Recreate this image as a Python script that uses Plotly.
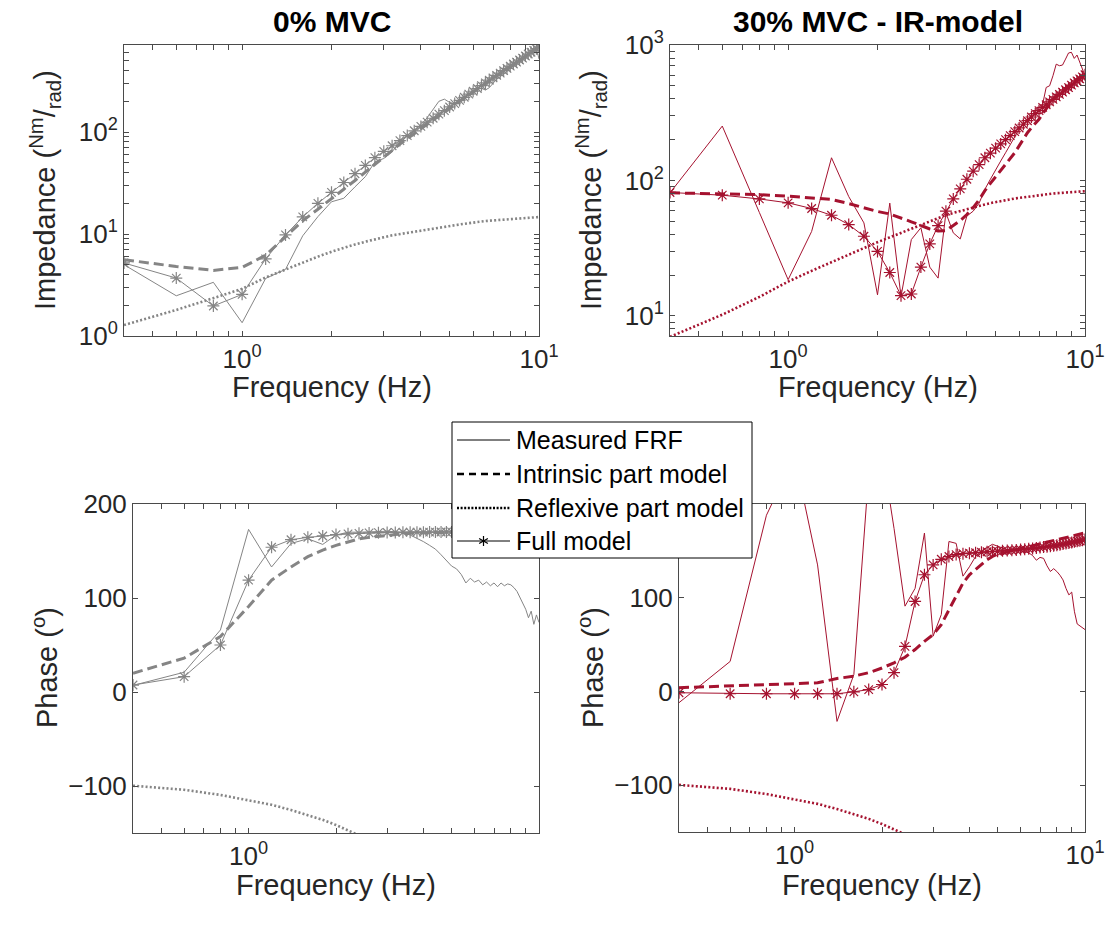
import math
import plotly.graph_objects as go

# Frequency grid (Hz)
freq = [0.4, 0.6, 0.8, 1.0, 1.2, 1.4, 1.6, 1.8, 2.0, 2.2, 2.4, 2.6, 2.8, 3.0,
        3.2, 3.4, 3.6, 3.8, 4.0, 4.2, 4.4, 4.6, 4.8, 5.0, 5.2, 5.4, 5.6, 5.8,
        6.0, 6.2, 6.4, 6.6, 6.8, 7.0, 7.2, 7.4, 7.6, 7.8, 8.0, 8.2, 8.4, 8.6,
        8.8, 9.0, 9.2, 9.4, 9.6, 9.8, 10.0]

# ---- Impedance magnitude, 0% MVC (Nm/rad)
imp_meas_0 = [5.0, 2.48, 3.36, 1.35, 3.67, 4.5, 9.6, 14.8, 20.7, 22.4, 29, 36.5, 51, 55,
              64, 80, 92, 104, 118, 138, 165, 200, 210, 195, 190, 205, 218, 228,
              250, 262, 268, 258, 272, 300, 330, 348, 372, 392, 420, 445, 470, 495,
              522, 548, 572, 600, 640, 665, 520]
imp_intr_0 = [5.6, 4.8, 4.4, 4.7, 6.2, 9.4, 13.5, 17.5, 22, 27.5, 33.5, 40.5, 48.5, 57,
              66, 76, 86, 97, 108, 119, 131, 144, 157, 171, 185, 199, 214, 230,
              246, 262, 280, 298, 317, 335, 354, 374, 395, 415, 437, 459, 480, 503,
              526, 551, 577, 600, 626, 651, 680]
imp_refl_0 = [1.28, 1.8, 2.35, 2.9, 3.75, 4.5, 5.2, 6.0, 6.7, 7.35, 7.9, 8.4, 8.9, 9.3,
              9.7, 10.0, 10.3, 10.55, 10.8, 11.05, 11.3, 11.55, 11.8, 12.0, 12.2, 12.4, 12.6, 12.8,
              12.95, 13.1, 13.25, 13.4, 13.5, 13.6, 13.7, 13.8, 13.9, 14.0, 14.1, 14.15, 14.2, 14.3,
              14.35, 14.4, 14.45, 14.5, 14.55, 14.6, 14.65]
imp_full_0 = [5.2, 3.7, 1.97, 2.56, 5.7, 9.8, 14.7, 20, 25.6, 32, 39, 47, 56, 64.6,
              73.3, 82.4, 92.2, 102.8, 113.5, 124.8, 136.5, 149.6, 162, 176, 190, 204, 219, 235,
              251, 267, 285, 303, 322, 340, 359, 378, 400, 420, 442, 464, 485, 508,
              531, 556, 582, 605, 631, 656, 684]

# ---- Impedance magnitude, 30% MVC (Nm/rad)
imp_meas_30 = [81, 252, 58, 18.5, 42, 147, 76, 48.6, 14.3, 68, 13.9, 36.6, 44.7, 22.9,
               19, 57.6, 41, 37, 54.5, 59.3, 68, 86, 102, 121, 139, 160, 185, 213,
               239, 260, 283, 303, 326, 345, 365, 486, 500, 593, 722, 703, 711, 787,
               873, 883, 796, 843, 745, 646, 593]
imp_intr_30 = [81, 80, 78.5, 76.6, 74.5, 72.3, 67.5, 62.5, 59, 56.5, 53, 49.5, 46.5, 43.8,
               42.3, 42.5, 46.5, 50.5, 56, 63, 72, 84, 95, 106, 118, 130, 144, 160,
               180, 203, 225, 245, 264, 283, 310, 338, 368, 398, 420, 440, 460, 480,
               500, 520, 538, 556, 574, 592, 610]
imp_refl_30 = [7.0, 10.2, 13.8, 17.9, 21.5, 25, 28.5, 31.8, 35, 38, 41, 44, 47, 50,
               53, 55.5, 57.5, 59.5, 61.5, 63.3, 65, 66.5, 68, 69.3, 70.5, 71.5, 72.5, 73.5,
               74.3, 75.1, 75.9, 76.6, 77.3, 77.9, 78.5, 79, 79.5, 80, 80.4, 80.8, 81.2, 81.5,
               81.8, 82.1, 82.4, 82.6, 82.9, 83.1, 83.3]
imp_full_30 = [81.5, 77.8, 73, 68.3, 62, 55.3, 47.2, 38.7, 29.9, 20.9, 14.1, 14.5, 22.9, 34,
               46.4, 59.3, 73, 86.7, 102, 117, 131, 147, 159, 173, 186, 200, 214, 229,
               244, 260, 276, 294, 311, 328, 346, 362, 380, 397, 414, 432, 449, 467,
               485, 505, 525, 543, 562, 582, 603]

# ---- Phase, 0% MVC (deg)
ph_meas_0 = [7, 21, 66, 173, 133, 158, 163, 157, 167, 170, 170, 170.5, 171, 171,
             170.5, 169.5, 167, 163.5, 160, 156, 152, 146, 140, 134, 131, 125, 116, 121,
             117, 119, 114, 117, 113, 116, 112, 116, 113, 115, 114, 111, 107, 100,
             95, 88, 79, 86, 72, 82, 74]
ph_intr_0 = [20, 36, 59, 91, 119, 133, 144, 151, 156, 160, 163, 164.5, 165.8, 167,
             167.8, 168.4, 168.9, 169.2, 169.5, 169.7, 169.8, 169.9, 170, 170, 170.1, 170.1, 170.2, 170.2,
             170.3, 170.3, 170.4, 170.4, 170.4, 170.5, 170.5, 170.5, 170.6, 170.6, 170.6, 170.6, 170.7, 170.7,
             170.7, 170.7, 170.8, 170.8, 170.8, 170.8, 170.8]
ph_refl_0 = [-99.7, -104, -109.5, -115, -120, -125.5, -131, -136, -141.5, -147, -152.5, -158, -163.5, -169,
             -174.5, -180, -185.5, -191, -196.5, -202, -207.5, -213, -218.5, -224, -229.5, -235, -240.5, -246,
             -251.5, -257, -262.5, -268, -273.5, -279, -284.5, -290, -295.5, -301, -306.5, -312, -317.5, -323,
             -328.5, -334, -339.5, -345, -350.5, -356, -361.5]
ph_full_0 = [7.4, 16.3, 50, 119, 154, 162, 164.5, 166, 167.5, 168.3, 168.8, 169.2, 169.5, 169.7,
             169.8, 169.9, 170, 170, 170, 170.1, 170.1, 170.2, 170.2, 170.3, 170.3, 170.3, 170.4, 170.4,
             170.4, 170.5, 170.5, 170.5, 170.6, 170.6, 170.6, 170.7, 170.7, 170.7, 170.7, 170.8, 170.8, 170.8,
             170.8, 170.9, 170.9, 170.9, 170.9, 171, 171]

# ---- Phase, 30% MVC (deg)
ph_meas_30 = [-12, 32, 188, 251, 135, -32, 18, 233, 257, 174, 91, 110, 169, 59,
              82, 160, 158, 123, 133, 144, 150, 154, 157, 155, 153, 151, 152, 151,
              150, 149, 148, 145, 140, 143, 142, 134, 128, 131, 128, 124, 119, 110,
              103, 106, 85, 72, 70, 68, 66]
ph_intr_30 = [4, 5.7, 6.7, 8.2, 9.2, 13.8, 16.3, 20, 25, 30.5, 36.5, 44.7, 53.5, 60.6,
              71.3, 87, 101, 115.6, 124.5, 130, 135, 140.4, 144, 146.5, 147.5, 149, 150.5, 151.5,
              152.5, 153.5, 154.5, 155.5, 156.5, 157.5, 158.5, 159.5, 160.5, 161.3, 162, 162.8, 163.5, 164.2,
              165, 165.7, 166.4, 167.1, 167.8, 168.5, 169.2]
ph_refl_30 = [-99.7, -104, -109.5, -115, -120, -125.5, -131, -136, -141.5, -147, -152.5, -158, -163.5, -169,
              -174.5, -180, -185.5, -191, -196.5, -202, -207.5, -213, -218.5, -224, -229.5, -235, -240.5, -246,
              -251.5, -257, -262.5, -268, -273.5, -279, -284.5, -290, -295.5, -301, -306.5, -312, -317.5, -323,
              -328.5, -334, -339.5, -345, -350.5, -356, -361.5]
ph_full_30 = [-1.4, -2.5, -2.5, -2.5, -2.5, -2.5, -0.4, 2, 7.4, 20, 48, 96, 124.5, 135,
              141, 144, 146, 147, 147.5, 148, 148.5, 149, 149.3, 149.6, 150, 150.3, 150.6, 151,
              151.4, 151.8, 152.2, 152.6, 153, 153.5, 154, 154.5, 155, 155.5, 156, 156.6, 157.2, 157.8,
              158.4, 159, 159.6, 160.2, 160.8, 161.4, 162]

legend_names = ["Measured FRF", "Intrinsic part model", "Reflexive part model", "Full model"]
titles = ["0% MVC", "30% MVC - IR-model"]
ph_ticks_left = [-100, 0, 100, 200]
ph_ticks_right = [-100, 0, 100]   # the 200 label sits under the legend box

GRAY = "#858585"
RED = "#a5122f"
FONT = "Liberation Sans, Arial, Helvetica, sans-serif"
W, H = 1110, 927
AXC = "#4a4a4a"
TXT = "#262626"


def px(x):
    return x / W


def py(y):
    return 1 - y / H


def log_ticks(d0, d1, lo, hi, labelled):
    """Split the 1..9 x 10^d positions into labelled decades and minor ticks."""
    major, text, minor = [], [], []
    for d in range(d0, d1 + 1):
        for m in range(1, 10):
            v = m * 10 ** d
            if v < lo * 0.999 or v > hi * 1.001:
                continue
            if m == 1 and d in labelled:
                major.append(v)
                text.append(f"10<sup>{d}</sup>")
            else:
                minor.append(v)
    return major, text, minor


fig = go.Figure()


def add_panel(xa, ya, color, meas, intr, refl, full):
    fig.add_trace(go.Scatter(x=freq, y=meas, mode="lines", xaxis=xa, yaxis=ya,
                             line=dict(color=color, width=1), showlegend=False))
    fig.add_trace(go.Scatter(x=freq, y=intr, mode="lines", xaxis=xa, yaxis=ya,
                             line=dict(color=color, width=3, dash="10px,5px"), showlegend=False))
    fig.add_trace(go.Scatter(x=freq, y=refl, mode="lines", xaxis=xa, yaxis=ya,
                             line=dict(color=color, width=2.6, dash="2px,2.2px"), showlegend=False))
    fig.add_trace(go.Scatter(x=freq, y=full, mode="lines+markers", xaxis=xa, yaxis=ya,
                             line=dict(color=color, width=1),
                             marker=dict(symbol="asterisk-open", size=10,
                                         line=dict(color=color, width=1.2)),
                             showlegend=False))


add_panel("x", "y", GRAY, imp_meas_0, imp_intr_0, imp_refl_0, imp_full_0)
add_panel("x2", "y2", RED, imp_meas_30, imp_intr_30, imp_refl_30, imp_full_30)
add_panel("x3", "y3", GRAY, ph_meas_0, ph_intr_0, ph_refl_0, ph_full_0)
add_panel("x4", "y4", RED, ph_meas_30, ph_intr_30, ph_refl_30, ph_full_30)

tickfont = dict(family=FONT, size=26, color=TXT)


def axis(**kw):
    base = dict(showline=True, mirror="ticks", linecolor=AXC, linewidth=1,
                ticks="inside", ticklen=5, tickcolor=AXC, tickwidth=1,
                showgrid=False, zeroline=False, automargin=False,
                tickfont=tickfont)
    base.update(kw)
    return base


def log_axis(rng, dom, anchor, major, text, minor):
    return axis(type="log", range=rng, domain=dom, anchor=anchor,
                tickmode="array", tickvals=major, ticktext=text,
                minor=dict(tickmode="array", tickvals=minor, ticks="inside",
                           ticklen=5, tickcolor=AXC, tickwidth=1, showgrid=False))


xt_maj, xt_txt, xt_min = log_ticks(-1, 1, 0.4, 10, {0, 1})
xb_maj, xb_txt, xb_min = log_ticks(-1, 1, 0.4, 10, {0})
yl_maj, yl_txt, yl_min = log_ticks(0, 3, 1, 713, {0, 1, 2})
yr_maj, yr_txt, yr_min = log_ticks(0, 3, 7.1, 1000, {1, 2, 3})

xr = [math.log10(0.4), 1]

fig.update_layout(
    template="none",
    width=W, height=H,
    margin=dict(l=0, r=0, t=0, b=0, autoexpand=False),
    paper_bgcolor="white", plot_bgcolor="white",
    font=dict(family=FONT, color=TXT),
    showlegend=False,
    xaxis=log_axis(xr, [px(124), px(539)], "y", xt_maj, xt_txt, xt_min),
    yaxis=log_axis([0, math.log10(713)], [py(336), py(45)], "x", yl_maj, yl_txt, yl_min),
    xaxis2=log_axis(xr, [px(670), px(1085)], "y2", xt_maj, xt_txt, xt_min),
    yaxis2=log_axis([math.log10(7.1), 3], [py(336), py(45)], "x2", yr_maj, yr_txt, yr_min),
    xaxis3=log_axis(xr, [px(133), px(539)], "y3", xb_maj, xb_txt, xb_min),
    yaxis3=axis(range=[-150, 200], domain=[py(833), py(504)], anchor="x3",
                tickmode="array", tickvals=ph_ticks_left),
    xaxis4=log_axis(xr, [px(679), px(1085)], "y4", xt_maj, xt_txt, xt_min),
    yaxis4=axis(range=[-150, 200], domain=[py(832), py(504)], anchor="x4",
                tickmode="array", tickvals=ph_ticks_right,
                minor=dict(tickmode="array", tickvals=[200], ticks="inside",
                           ticklen=5, tickcolor=AXC, tickwidth=1, showgrid=False)),
)

# ---- Legend box (drawn in figure pixels, converted to paper units)
LEG_L, LEG_T, LEG_R, LEG_B = 452, 422, 752, 558
row_y = [440, 474, 508, 541]
sample_x0, sample_x1, text_x = 457, 510, 514

shapes = [dict(type="rect", xref="paper", yref="paper", layer="above",
               x0=px(LEG_L), x1=px(LEG_R), y0=py(LEG_B), y1=py(LEG_T),
               fillcolor="white", line=dict(color="black", width=1))]
sample_lines = [
    dict(color="black", width=1),
    dict(color="black", width=2.6, dash="7px,5px"),
    dict(color="black", width=2.4, dash="2px,1.6px"),
    dict(color="black", width=1),
]
for yy, ln in zip(row_y, sample_lines):
    shapes.append(dict(type="line", xref="paper", yref="paper", layer="above",
                       x0=px(sample_x0), x1=px(sample_x1), y0=py(yy), y1=py(yy), line=ln))
# asterisk glyph on the "Full model" sample
ax_c, ay_c, r = 483.5, row_y[3], 5
for dx, dy in [(0, r), (r * 0.87, r * 0.5), (r * 0.87, -r * 0.5)]:
    shapes.append(dict(type="line", xref="paper", yref="paper", layer="above",
                       x0=px(ax_c - dx), x1=px(ax_c + dx), y0=py(ay_c - dy), y1=py(ay_c + dy),
                       line=dict(color="black", width=1.2)))

ann = []
for yy, name in zip(row_y, legend_names):
    ann.append(dict(x=px(text_x), y=py(yy), xref="paper", yref="paper", text=name,
                    showarrow=False, font=dict(family=FONT, size=25, color="black"),
                    xanchor="left", yanchor="middle"))

lab_font = dict(family=FONT, size=29, color=TXT)
# subplot titles
for cx, t in zip([331.5, 877.5], titles):
    ann.append(dict(x=px(cx), y=py(22), xref="paper", yref="paper", text=f"<b>{t}</b>",
                    showarrow=False, font=dict(family=FONT, size=30, color="black"),
                    xanchor="center", yanchor="middle"))
# x-axis titles
for cx, cy in [(331.5, 387), (877.5, 387), (336, 885), (882, 885)]:
    ann.append(dict(x=px(cx), y=py(cy), xref="paper", yref="paper", text="Frequency (Hz)",
                    showarrow=False, font=lab_font, xanchor="center", yanchor="middle"))
# y-axis titles
imp_lab = "Impedance (<sup>Nm</sup>/<sub>rad</sub>)"
ph_lab = "Phase (<sup>o</sup>)"
for cx, cy, t in [(45, 190, imp_lab), (591, 190, imp_lab), (45, 668, ph_lab), (591, 668, ph_lab)]:
    ann.append(dict(x=px(cx), y=py(cy), xref="paper", yref="paper", text=t, textangle=-90,
                    showarrow=False, font=lab_font, xanchor="center", yanchor="middle"))

fig.update_layout(shapes=shapes, annotations=ann)

fig.write_html("out.html")
